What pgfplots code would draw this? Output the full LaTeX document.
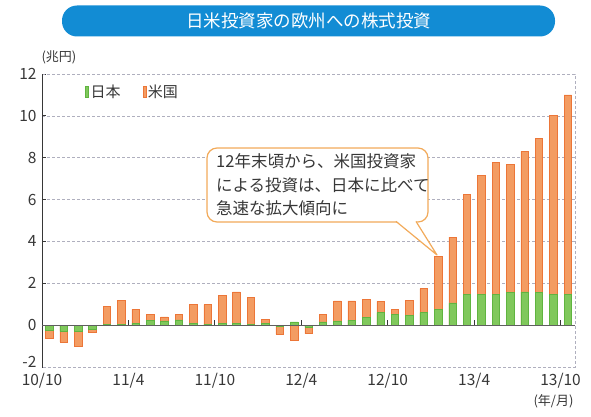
\documentclass[border=0pt]{standalone}
\usepackage{fontspec}
\setmainfont{Noto Sans CJK JP}
\usepackage{pgfplots}
\usepackage{pgfplotstable}
\pgfplotsset{compat=1.18}
\definecolor{usor}{RGB}{243,156,98}
\definecolor{usedge}{RGB}{236,118,56}
\definecolor{jpgr}{RGB}{128,200,92}
\definecolor{jpedge}{RGB}{96,180,64}
\definecolor{titleblue}{RGB}{18,140,212}
\definecolor{txt}{RGB}{55,55,55}
\definecolor{gridc}{RGB}{175,175,190}
\definecolor{callc}{RGB}{242,170,90}
\pgfplotstableread{
x us jp
0 -0.62 -0.25
1 -0.80 -0.30
2 -1.00 -0.30
3 -0.32 -0.18
4 0.90 0.05
5 1.19 0.05
6 0.75 0.08
7 0.50 0.24
8 0.40 0.20
9 0.53 0.25
10 0.98 0.08
11 0.98 0.05
12 1.43 0.08
13 1.59 0.08
14 1.32 0.05
15 0.27 0.08
16 -0.44 -0.05
17 -0.71 0.16
18 -0.40 -0.10
19 0.51 0.16
20 1.16 0.20
21 1.16 0.24
22 1.24 0.37
23 1.14 0.60
24 0.76 0.52
25 1.19 0.48
26 1.75 0.60
27 3.29 0.77
28 4.21 1.06
29 6.24 1.46
30 7.16 1.46
31 7.76 1.46
32 7.67 1.56
33 8.30 1.59
34 8.94 1.56
35 10.03 1.48
36 11.00 1.46
}\datatable
\begin{document}
\begin{tikzpicture}
\useasboundingbox (0pt,0pt) rectangle (591pt,416pt);
% title banner
\node[fill=titleblue, rounded corners=15pt, minimum width=493pt, minimum height=31pt, inner sep=0pt, text=white, font=\fontsize{17.5}{17.5}\selectfont] at (308.5pt,395pt) {日米投資家の欧州への株式投資};
\begin{axis}[
  at={(42pt,49pt)}, anchor=south west,
  scale only axis, width=533pt, height=293pt,
  xmin=-0.5, xmax=36.5, ymin=-2, ymax=12,
  ytick={0,2,4,6,8,10,12},
  extra y ticks={-2},
  extra y tick style={ymajorgrids=false, yticklabel style={yshift=5pt}},
  xtick={-0.5,5.5,11.5,17.5,23.5,29.5,35.5},
  xticklabels={10/10,11/4,11/10,12/4,12/10,13/4,13/10},
  /pgf/number format/assume math mode=true,
  tick label style={font=\fontsize{15.5}{15.5}\selectfont, text=txt},
  yticklabel style={xshift=-2pt},
  xticklabel style={yshift=1pt},
  tick pos=left,
  xtick style={draw=none},
  ytick style={draw=txt, line width=0.8pt},
  major tick length=4pt,
  tick align=inside,
  ymajorgrids,
  grid style={gridc, dash pattern=on 3pt off 2pt, line width=0.7pt},
  axis line style={draw=none},
  ybar, bar width=7.5pt, bar shift=0pt,
  legend style={at={(rel axis cs:0.075,0.94)}, anchor=west, draw=none, fill=none,
    font=\fontsize{15}{15}\selectfont, text=txt, legend columns=2,
    /tikz/every even column/.append style={column sep=20pt}},
  legend image code/.code={\draw[#1] (0pt,-5.5pt) rectangle (3pt,5.5pt);},
  legend cell align=left,
  clip=false,
]
\addplot[fill=usor, draw=usedge, line width=0.5pt, forget plot] table[x=x,y=us]{\datatable};
\addplot[fill=jpgr, draw=jpedge, line width=0.5pt, forget plot] table[x=x,y=jp]{\datatable};
\addlegendimage{fill=jpgr, draw=jpedge}
\addlegendentry{日本}
\addlegendimage{fill=usor, draw=usedge}
\addlegendentry{米国}
\draw[gridc, dash pattern=on 3pt off 2pt, line width=0.8pt] (rel axis cs:0,1) -- (rel axis cs:1,1) -- (rel axis cs:1,0) -- (rel axis cs:0,0);
\draw[txt, line width=1pt] (rel axis cs:0,0) -- (rel axis cs:0,1);
\draw[txt!80, line width=1pt] (axis cs:-0.5,0) -- (axis cs:36.5,0);
\pgfplotsinvokeforeach{5.5,11.5,17.5,23.5,29.5,35.5}{\draw[txt, line width=1pt] (axis cs:#1,0) -- ++(0pt,5pt);}
\end{axis}
% unit labels
\node[text=txt, font=\fontsize{13}{13}\selectfont, anchor=west] at (38pt,359pt) {(兆円)};
\node[text=txt, font=\fontsize{13}{13}\selectfont, anchor=east] at (577pt,15pt) {(年/月)};
% callout
\draw[callc, line width=1.2pt, fill=white, rounded corners=10pt] (207pt,194pt) rectangle (428pt,268pt);
\fill[white] (396pt,195.5pt) -- (416pt,195.5pt) -- (437pt,161pt) -- cycle;
\draw[callc, line width=1.2pt, line join=round] (396pt,194.6pt) -- (437pt,161pt) -- (416pt,194.6pt);
\node[anchor=west, align=left, text=txt, font=\fontsize{16.5}{23.5}\selectfont, inner sep=0pt] at (216pt,231pt) {12年末頃から、米国投資家\\による投資は、日本に比べて\\急速な拡大傾向に};
\end{tikzpicture}
\end{document}
